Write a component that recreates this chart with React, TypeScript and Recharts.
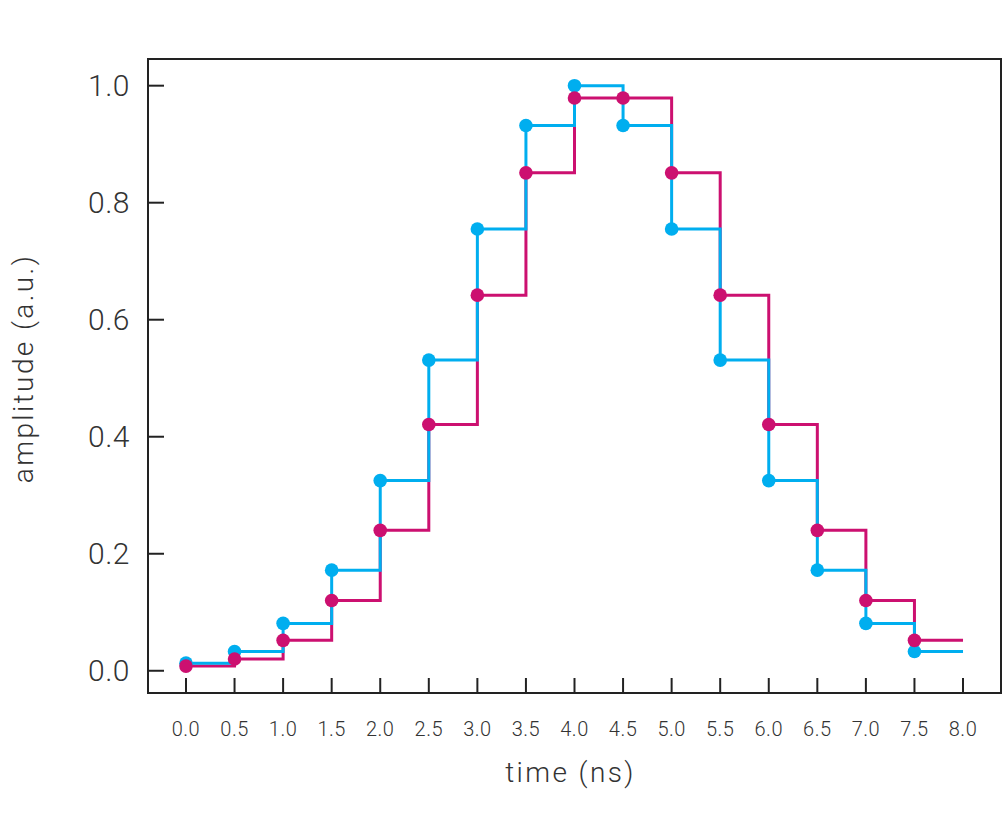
import React from 'react';
import { LineChart, Line, XAxis, YAxis, Label, ReferenceArea } from 'recharts';

const times = [0, 0.5, 1, 1.5, 2, 2.5, 3, 3.5, 4, 4.5, 5, 5.5, 6, 6.5, 7, 7.5, 8];
const blueValues = [0.013, 0.033, 0.081, 0.172, 0.325, 0.531, 0.755, 0.932, 1.0, 0.932, 0.755, 0.531, 0.325, 0.172, 0.081, 0.033, 0.033];
const magentaValues = [0.008, 0.02, 0.052, 0.12, 0.24, 0.421, 0.642, 0.851, 0.979, 0.979, 0.851, 0.642, 0.421, 0.24, 0.12, 0.052, 0.052];
const xTicks = [0, 0.5, 1, 1.5, 2, 2.5, 3, 3.5, 4, 4.5, 5, 5.5, 6, 6.5, 7, 7.5, 8];
const yTicks = [0, 0.2, 0.4, 0.6, 0.8, 1.0];
const xDomain = [-0.391, 8.391];
const yDomain = [-0.038, 1.0456];

const data = times.map((t, i) => ({ t, blue: blueValues[i], magenta: magentaValues[i] }));

const BLUE = '#00aeef';
const MAGENTA = '#cc1070';
const AXIS = '#222';
const TEXT = '#333';
const FONT = 'Roboto, "Noto Sans", sans-serif';
const LAST = times.length - 1;

const makeDot = (color: string) => (props: any) => {
  const { cx, cy, index } = props;
  if (index === LAST || cx == null || cy == null) return <g key={`d-${color}-${index}`} />;
  return <circle key={`d-${color}-${index}`} cx={cx} cy={cy} r={6.8} fill={color} stroke="none" />;
};

const XTick = (props: any) => {
  const { x, y, payload } = props;
  const axisY = y - 36;
  return (
    <g>
      <line x1={x} x2={x} y1={axisY} y2={axisY - 15} stroke={AXIS} strokeWidth={2} />
      <text x={x} y={y} dy="0.35em" textAnchor="middle" fontFamily={FONT} fontWeight={300} fontSize={20} letterSpacing={0.5} fill={TEXT}>
        {Number(payload.value).toFixed(1)}
      </text>
    </g>
  );
};

const YTick = (props: any) => {
  const { x, y, payload } = props;
  const axisX = x + 18;
  return (
    <g>
      <line x1={axisX} x2={axisX + 16} y1={y} y2={y} stroke={AXIS} strokeWidth={2} />
      <text x={x} y={y} dy="0.35em" textAnchor="end" fontFamily={FONT} fontWeight={300} fontSize={30} letterSpacing={0.5} fill={TEXT}>
        {Number(payload.value).toFixed(1)}
      </text>
    </g>
  );
};

const XLabel = (props: any) => {
  const vb = props.viewBox || {};
  return (
    <text x={vb.x + vb.width / 2 - 4} y={vb.y + 89} textAnchor="middle" fontFamily={FONT} fontWeight={300} fontSize={28} letterSpacing={2.4} fill={TEXT}>
      time (ns)
    </text>
  );
};

const YLabel = (props: any) => {
  const vb = props.viewBox || {};
  const cx = vb.x + 15;
  const cy = vb.y + vb.height / 2 - 7.5;
  return (
    <text x={cx} y={cy} dy="0.35em" transform={`rotate(-90, ${cx}, ${cy})`} textAnchor="middle" fontFamily={FONT} fontWeight={300} fontSize={28} letterSpacing={2.4} fill={TEXT}>
      amplitude (a.u.)
    </text>
  );
};

export default function App() {
  return (
    <div style={{ position: 'absolute', left: 8, top: 8, width: 996, height: 805 }}>
      <style>{'html, body { overflow: hidden; }'}</style>
      <LineChart width={996} height={805} data={data} margin={{ top: 51, right: 3, left: 0, bottom: 20 }} style={{ display: 'block', overflow: 'visible' }}>
        <XAxis
          xAxisId="main"
          dataKey="t"
          type="number"
          domain={xDomain}
          ticks={xTicks}
          allowDataOverflow
          height={100}
          tickSize={0}
          tickMargin={36}
          tickLine={false}
          axisLine={{ stroke: AXIS, strokeWidth: 2 }}
          tick={<XTick />}
          interval={0}
        >
          <Label content={<XLabel />} />
        </XAxis>
        <YAxis
          yAxisId="main"
          type="number"
          domain={yDomain}
          ticks={yTicks}
          allowDataOverflow
          width={140}
          tickSize={0}
          tickMargin={18}
          tickLine={false}
          axisLine={{ stroke: AXIS, strokeWidth: 2 }}
          tick={<YTick />}
          interval={0}
        >
          <Label content={<YLabel />} />
        </YAxis>
        <ReferenceArea
          xAxisId="main"
          yAxisId="main"
          x1={xDomain[0]}
          x2={xDomain[1]}
          y1={yDomain[0]}
          y2={yDomain[1]}
          fill="none"
          fillOpacity={0}
          stroke={AXIS}
          strokeWidth={2}
          ifOverflow="visible"
        />
        <Line
          xAxisId="main"
          yAxisId="main"
          type="stepAfter"
          dataKey="magenta"
          stroke={MAGENTA}
          strokeWidth={3}
          dot={false}
          activeDot={false}
          isAnimationActive={false}
        />
        <Line
          xAxisId="main"
          yAxisId="main"
          type="stepAfter"
          dataKey="blue"
          stroke={BLUE}
          strokeWidth={3}
          dot={makeDot(BLUE)}
          activeDot={false}
          isAnimationActive={false}
        />
        <Line
          xAxisId="main"
          yAxisId="main"
          type="stepAfter"
          dataKey="magenta"
          stroke="none"
          strokeWidth={0}
          dot={makeDot(MAGENTA)}
          activeDot={false}
          legendType="none"
          isAnimationActive={false}
        />
      </LineChart>
    </div>
  );
}
